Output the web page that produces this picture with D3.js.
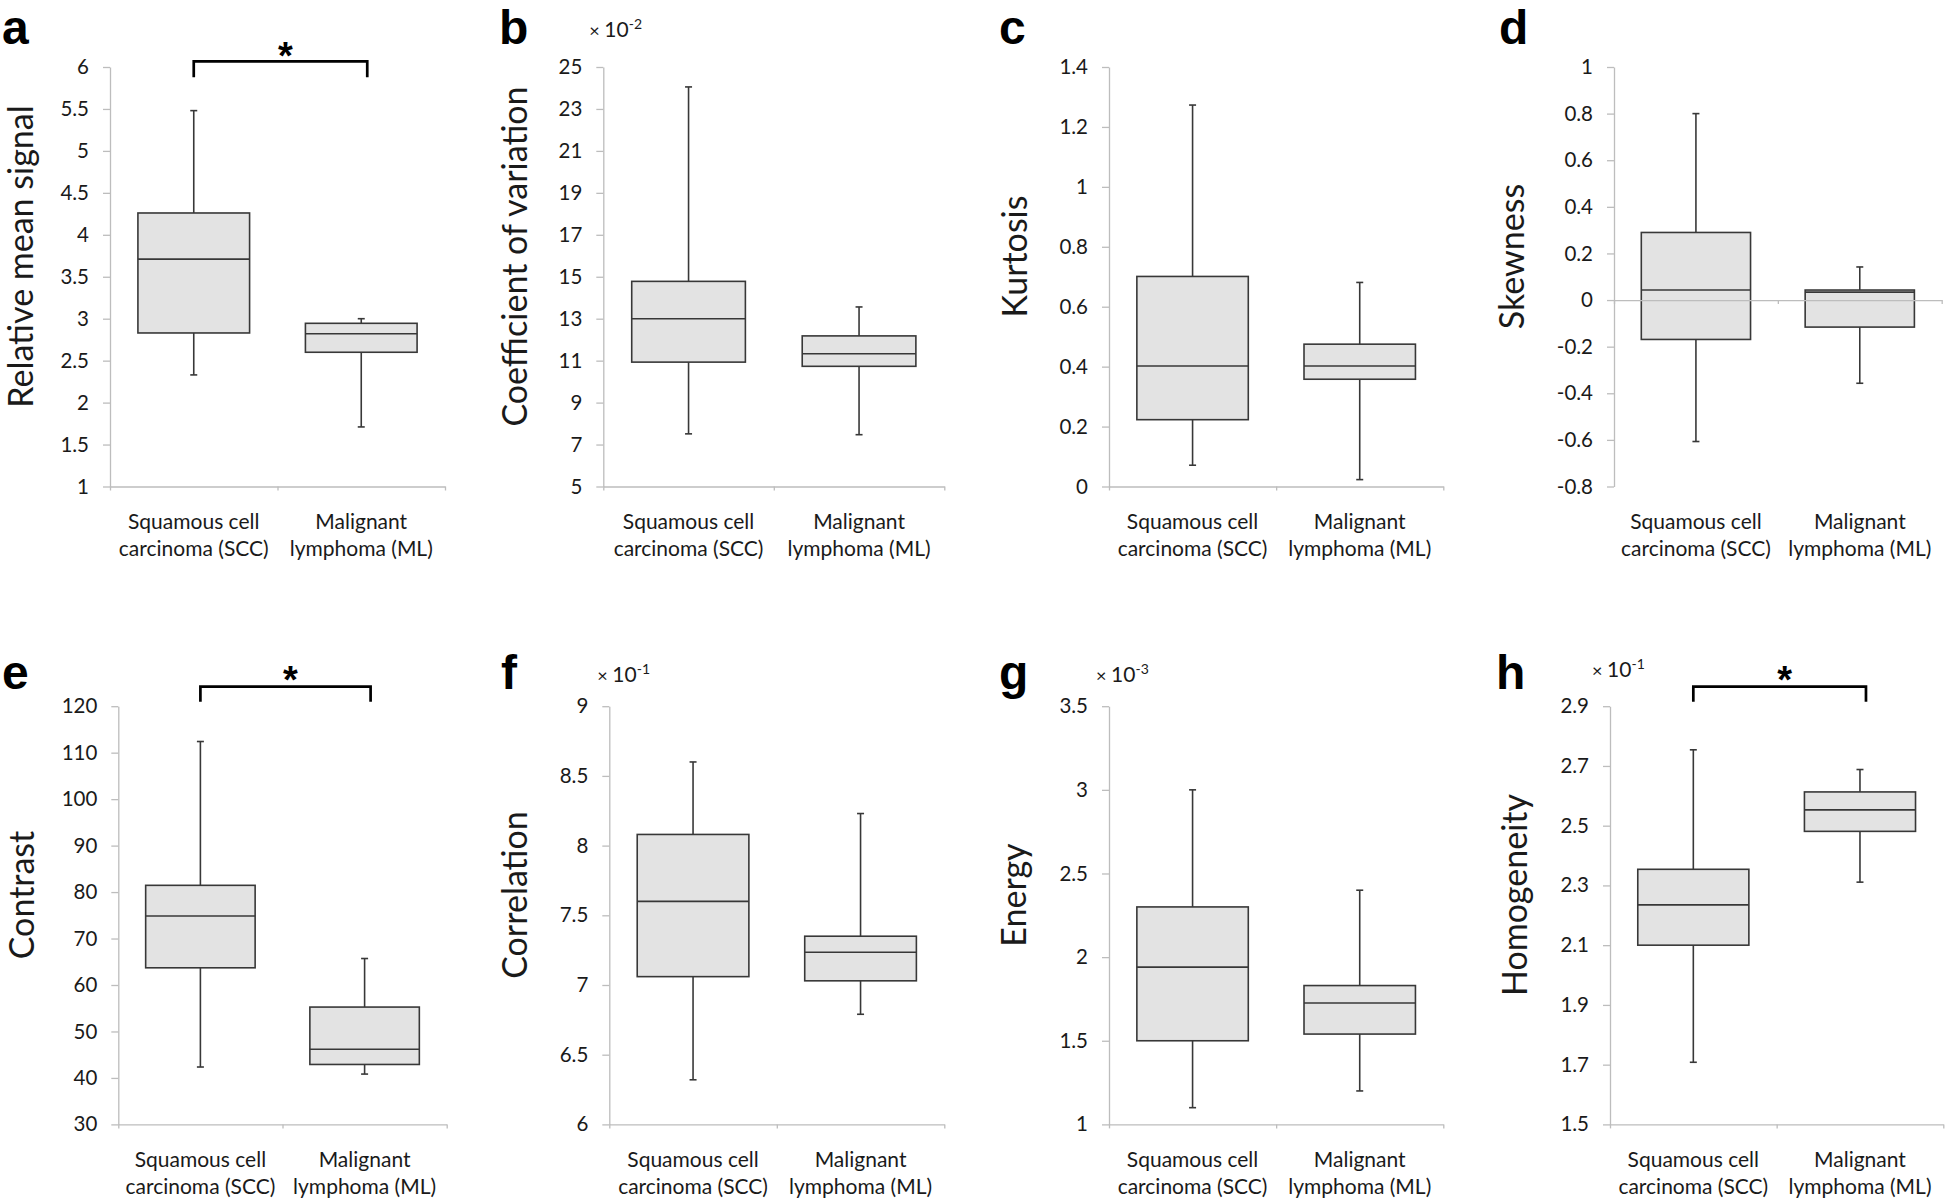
<!DOCTYPE html>
<html><head><meta charset="utf-8">
<script src="https://cdn.jsdelivr.net/npm/d3@7"></script>
<style>body{margin:0;background:#fff}</style>
</head><body><svg id="c" width="1946" height="1203"></svg>
<script>
// ---------------- data ----------------
const categories = [["Squamous cell", "carcinoma (SCC)"], ["Malignant", "lymphoma (ML)"]];
const letters = ["a", "b", "c", "d", "e", "f", "g", "h"];
const titles = ["Relative mean signal", "Coefficient of variation", "Kurtosis", "Skewness",
                "Contrast", "Correlation", "Energy", "Homogeneity"];
const exponents = [null, "-2", null, null, null, "-1", "-3", "-1"];
const significant = [true, false, false, false, true, false, false, true];
// box stats: [min, Q1, median, Q3, max]
const sccStats = [
  [2.33, 2.83, 3.71, 4.26, 5.48],
  [7.51, 10.93, 13.0, 14.78, 24.05],
  [0.071, 0.223, 0.402, 0.701, 1.273],
  [-0.607, -0.169, 0.043, 0.29, 0.80],
  [42.35, 63.7, 74.84, 81.45, 112.4],
  [6.32, 7.06, 7.60, 8.08, 8.60],
  [1.10, 1.50, 1.94, 2.30, 3.00],
  [1.708, 2.10, 2.235, 2.354, 2.754]
];
const mlStats = [
  [1.71, 2.60, 2.82, 2.945, 3.00],
  [7.47, 10.73, 11.33, 12.18, 13.56],
  [0.023, 0.358, 0.402, 0.475, 0.681],
  [-0.357, -0.116, 0.034, 0.043, 0.142],
  [40.83, 42.9, 46.17, 55.25, 65.7],
  [6.79, 7.03, 7.235, 7.35, 8.23],
  [1.20, 1.54, 1.726, 1.83, 2.40],
  [2.311, 2.481, 2.553, 2.613, 2.688]
];
const yTicks = [
  [1, 1.5, 2, 2.5, 3, 3.5, 4, 4.5, 5, 5.5, 6],
  [5, 7, 9, 11, 13, 15, 17, 19, 21, 23, 25],
  [0, 0.2, 0.4, 0.6, 0.8, 1, 1.2, 1.4],
  [-0.8, -0.6, -0.4, -0.2, 0, 0.2, 0.4, 0.6, 0.8, 1],
  [30, 40, 50, 60, 70, 80, 90, 100, 110, 120],
  [6, 6.5, 7, 7.5, 8, 8.5, 9],
  [1, 1.5, 2, 2.5, 3, 3.5],
  [1.5, 1.7, 1.9, 2.1, 2.3, 2.5, 2.7, 2.9]
];

// ---------------- layout ----------------
const rows = [
  {y0: 67, y1: 486.5, letterY: 43.5, titleY: 256.5, brTop: 61.3, brLeg: 77.3, starY: 69},
  {y0: 706.2, y1: 1124.4, letterY: 689, titleY: 895, brTop: 686.6, brLeg: 701.8, starY: 693}
];
const panels = [
  {row: 0, x0: 110,   x1: 445,    lx: 2,    tx: 33,     mx: 0,   my: 0},
  {row: 0, x0: 603.3, x1: 944.3,  lx: 499,  tx: 527,    mx: -14, my: 37.2},
  {row: 0, x0: 1109,  x1: 1443.3, lx: 999,  tx: 1027,   mx: 0,   my: 0},
  {row: 0, x0: 1614,  x1: 1941.7, lx: 1499, tx: 1523.5, mx: 0,   my: 0},
  {row: 1, x0: 118.3, x1: 446.7,  lx: 2,    tx: 34,     mx: 0,   my: 0},
  {row: 1, x0: 609.3, x1: 944.3,  lx: 501,  tx: 527,    mx: -12, my: 682},
  {row: 1, x0: 1109,  x1: 1443.3, lx: 999,  tx: 1025.5, mx: -13, my: 682},
  {row: 1, x0: 1610,  x1: 1943.3, lx: 1496, tx: 1527,   mx: -18, my: 676.6}
];

const FONT = "Lato, 'Open Sans', sans-serif";
const AXIS = "#bdbdbd";
const BOXFILL = "#e3e3e3";
const BOXSTROKE = "#383838";
const TXT = "#1a1a1a";
const fmt = d => String(+d.toFixed(2));

const svg = d3.select("#c");

letters.forEach((letter, i) => {
  const P = panels[i], R = rows[P.row];
  const g = svg.append("g");
  const y = d3.scaleLinear().domain(d3.extent(yTicks[i])).range([R.y1, R.y0]);
  const x = d3.scaleBand().domain([0, 1]).range([P.x0, P.x1]).paddingInner(1 / 3).paddingOuter(1 / 6);
  const xb = d3.scaleLinear().domain([0, 2]).range([P.x0, P.x1]);
  const baseY = (y.domain()[0] < 0 && y.domain()[1] > 0) ? y(0) : R.y1;

  // y axis
  const ya = g.append("g").attr("transform", `translate(${P.x0},0)`)
    .call(d3.axisLeft(y).tickValues(yTicks[i]).tickFormat(fmt).tickSize(7).tickSizeOuter(0).tickPadding(14));
  ya.select(".domain").attr("stroke", AXIS).attr("stroke-width", 1.3);
  ya.selectAll(".tick line").attr("stroke", AXIS).attr("stroke-width", 1.3);
  ya.selectAll(".tick text").attr("font-family", FONT).attr("font-size", 20.5).attr("fill", TXT);

  // boxes
  [sccStats[i], mlStats[i]].forEach((s, k) => {
    const cx = x(k) + x.bandwidth() / 2;
    const bw = x.bandwidth();
    const [mn, q1, md, q3, mx] = s;
    const wg = g.append("g").attr("stroke", BOXSTROKE).attr("stroke-width", 1.6);
    wg.append("line").attr("x1", cx).attr("x2", cx).attr("y1", y(q3)).attr("y2", y(mx));
    wg.append("line").attr("x1", cx).attr("x2", cx).attr("y1", y(q1)).attr("y2", y(mn));
    wg.append("line").attr("x1", cx - 3.5).attr("x2", cx + 3.5).attr("y1", y(mx)).attr("y2", y(mx));
    wg.append("line").attr("x1", cx - 3.5).attr("x2", cx + 3.5).attr("y1", y(mn)).attr("y2", y(mn));
    wg.append("rect").attr("x", x(k)).attr("width", bw)
      .attr("y", y(q3)).attr("height", y(q1) - y(q3))
      .attr("fill", BOXFILL);
    wg.append("line").attr("x1", x(k)).attr("x2", x(k) + bw).attr("y1", y(md)).attr("y2", y(md));
  });

  // x axis (category axis, Excel style: ticks at category boundaries)
  const xa = g.append("g").attr("transform", `translate(0,${baseY})`)
    .call(d3.axisBottom(xb).tickValues([0, 1, 2]).tickFormat("").tickSize(4).tickSizeOuter(0));
  xa.select(".domain").attr("stroke", AXIS).attr("stroke-width", 1.3);
  xa.selectAll(".tick line").attr("stroke", AXIS).attr("stroke-width", 1.3);

  // category labels
  categories.forEach((lines, k) => {
    const cx = x(k) + x.bandwidth() / 2;
    lines.forEach((t, j) => {
      g.append("text").attr("x", cx).attr("y", R.y1 + 42.7 + j * 26.7)
        .attr("text-anchor", "middle").attr("font-family", FONT).attr("font-size", 21)
        .attr("fill", TXT).text(t);
    });
  });

  // axis title
  g.append("text").attr("transform", `translate(${P.tx},${R.titleY}) rotate(-90)`)
    .attr("text-anchor", "middle").attr("font-family", FONT).attr("font-size", 34)
    .attr("fill", TXT).text(titles[i]);

  // panel letter
  g.append("text").attr("x", P.lx).attr("y", R.letterY)
    .attr("font-family", "'Liberation Sans', Arial, sans-serif").attr("font-weight", "bold")
    .attr("font-size", 48).attr("fill", "#000").text(letter);

  // exponent multiplier
  if (exponents[i]) {
    const t = g.append("text").attr("x", P.x0 + P.mx).attr("y", P.my)
      .attr("font-family", FONT).attr("font-size", 21).attr("fill", TXT);
    t.append("tspan").attr("font-size", 18).text("× ");
    t.append("tspan").text("10");
    t.append("tspan").attr("font-size", 14).attr("dy", -8).text(exponents[i]);
  }

  // significance bracket
  if (significant[i]) {
    const c0 = x(0) + x.bandwidth() / 2, c1 = x(1) + x.bandwidth() / 2 + 6;
    g.append("path")
      .attr("d", `M${c0},${R.brLeg}V${R.brTop}H${c1}V${R.brLeg}`)
      .attr("fill", "none").attr("stroke", "#000").attr("stroke-width", 2.7);
    g.append("text").attr("x", (c0 + c1) / 2 + 5).attr("y", R.starY)
      .attr("text-anchor", "middle").attr("font-family", "'Liberation Sans', Arial, sans-serif")
      .attr("font-weight", "bold").attr("font-size", 38).attr("fill", "#000").text("*");
  }
});
</script>
</body></html>
